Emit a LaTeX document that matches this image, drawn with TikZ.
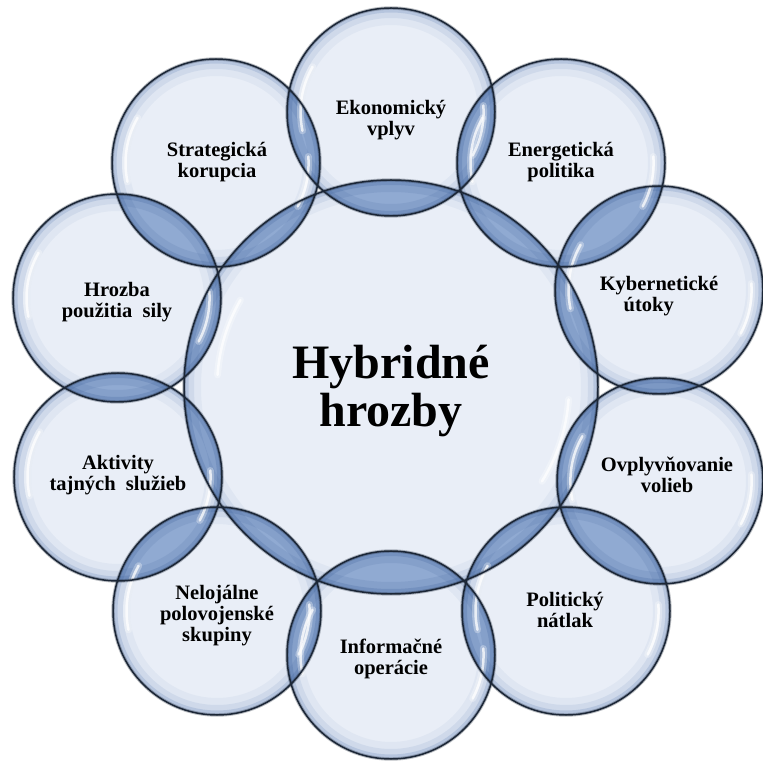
\documentclass[tikz,border=0pt]{standalone}
\usepackage{fontspec}
\setmainfont{Liberation Serif}
\definecolor{bubIn}{HTML}{E9EEF7}
\definecolor{rimC}{HTML}{5F80B5}
\definecolor{lensC}{HTML}{90AAD2}
\definecolor{lensRim}{HTML}{4B6CA3}
\definecolor{outlC}{HTML}{1B2636}
\newcommand\rad[1]{\csname r#1\endcsname}
\newcommand\bubbase[1]{%
  \fill[bubIn] (#1) circle[radius=\rad{#1}];
  \begin{scope}
    \clip (#1) circle[radius=\rad{#1}];
    \draw[rimC, line width=34, opacity=0.07] (#1) circle[radius=\rad{#1}];
    \draw[rimC, line width=20, opacity=0.12] (#1) circle[radius=\rad{#1}];
    \draw[rimC, line width=9, opacity=0.22] (#1) circle[radius=\rad{#1}];
  \end{scope}}
\newcommand\mylens[2]{%
  \begin{scope}
    \clip (#1) circle[radius=\rad{#1}];
    \clip (#2) circle[radius=\rad{#2}];
    \fill[lensC] (#1) circle[radius=\rad{#1}];
    \draw[lensRim, line width=24, opacity=0.15] (#1) circle[radius=\rad{#1}];
    \draw[lensRim, line width=10, opacity=0.28] (#1) circle[radius=\rad{#1}];
    \draw[lensRim, line width=24, opacity=0.15] (#2) circle[radius=\rad{#2}];
    \draw[lensRim, line width=10, opacity=0.28] (#2) circle[radius=\rad{#2}];
  \end{scope}}
\newcommand\shine[4]{%
  \draw[white, line width=7, opacity=0.3, line cap=round] (#1) ++(#3:{#2*\rad{#1}}) arc[start angle=#3, end angle=#4, radius={#2*\rad{#1}}];
  \draw[white, line width=2.5, opacity=0.75, line cap=round] (#1) ++(#3:{#2*\rad{#1}}) arc[start angle=#3, end angle=#4, radius={#2*\rad{#1}}];}
\newcommand\bubedge[1]{%
  \draw[outlC, line width=3.4, opacity=0.3] (#1) circle[radius=\rad{#1}];
  \draw[outlC, line width=1.5] (#1) circle[radius=\rad{#1}];}
\def\rC{207}
\def\rEko{104}\def\rEner{104}\def\rKyb{104}\def\rOvp{103}\def\rPol{104}
\def\rInf{104}\def\rNel{104}\def\rAkt{104}\def\rHro{104}\def\rStr{104}
\begin{document}
\begin{tikzpicture}[x=1pt,y=1pt]
\tikzset{
  lab/.style={font=\fontsize{20.5}{21}\selectfont\bfseries, align=center, inner sep=0pt, text=black},
  bigLab/.style={font=\fontsize{48}{48}\selectfont\bfseries, align=center, inner sep=0pt, text=black}
}
\fill[white] (0,0) rectangle (763,761);
\useasboundingbox (0,0) rectangle (763,761);
% centres
\coordinate (C) at (391,374);
\coordinate (Eko) at (391,649);
\coordinate (Ener) at (561,598);
\coordinate (Kyb) at (659,471);
\coordinate (Ovp) at (660,280);
\coordinate (Pol) at (566,150);
\coordinate (Inf) at (391,106);
\coordinate (Nel) at (217,150);
\coordinate (Akt) at (118,284);
\coordinate (Hro) at (117,463);
\coordinate (Str) at (216,598);
% bases
\foreach \q in {C,Eko,Ener,Kyb,Ovp,Pol,Inf,Nel,Akt,Hro,Str}{\bubbase{\q}}
% lenses
\foreach \q in {Eko,Ener,Kyb,Ovp,Pol,Inf,Nel,Akt,Hro,Str}{\mylens{C}{\q}}
\foreach \a/\b in {Eko/Ener,Ener/Kyb,Kyb/Ovp,Ovp/Pol,Pol/Inf,Inf/Nel,Nel/Akt,Akt/Hro,Hro/Str,Str/Eko}{\mylens{\a}{\b}}
% highlights
\foreach \q in {Eko,Ener,Kyb,Ovp,Pol,Inf,Nel,Akt,Hro,Str}{%
  \shine{\q}{0.87}{150}{192}
  \shine{\q}{0.89}{-28}{4}}
\shine{C}{0.84}{150}{176}
\shine{C}{0.86}{-32}{-4}
% outlines
\foreach \q in {C,Eko,Ener,Kyb,Ovp,Pol,Inf,Nel,Akt,Hro,Str}{\bubedge{\q}}
% labels
\node[bigLab] (tC) at (391,367.6) {\strut Hybridné\\\strut hrozby};
\node[lab] (tEko) at (391,640.3) {\strut Ekonomický\\\strut vplyv};
\node[lab] (tEner) at (561,597.8) {\strut Energetická\\\strut politika};
\node[lab] (tStr) at (217,597.8) {\strut Strategická\\\strut korupcia};
\node[lab] (tKyb) at (659,464.3) {\strut Kybernetické\\\strut útoky\hspace*{1em}};
\node[lab] (tOvp) at (667,282.8) {\strut Ovplyvňovanie\\\strut volieb};
\node[lab] (tPol) at (565,147.8) {\strut Politický\\\strut nátlak};
\node[lab] (tInf) at (391,101.3) {\strut Informačné\\\strut operácie};
\node[lab] (tNel) at (217,144.3) {\strut Nelojálne\\\strut polovojenské\\\strut skupiny};
\node[lab] (tAkt) at (118,285.3) {\strut Aktivity\\\strut tajných\hspace{0.25em} služieb};
\node[lab] (tHro) at (117,457.8) {\strut Hrozba\\\strut použitia\hspace{0.25em} sily};
\end{tikzpicture}
\end{document}
